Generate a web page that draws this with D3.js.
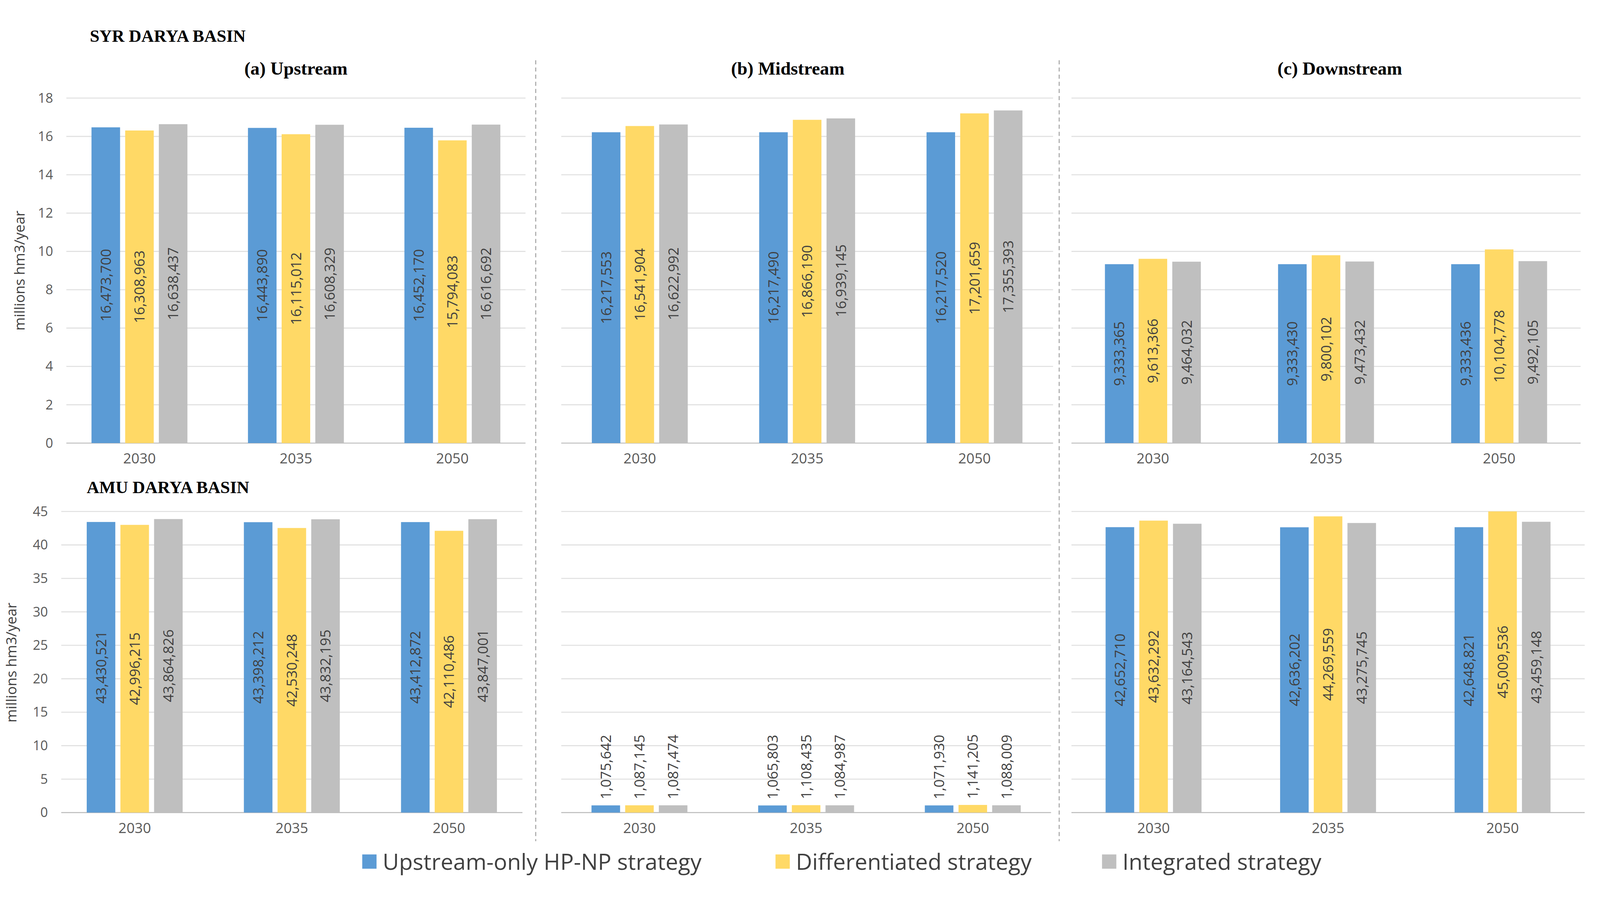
<!DOCTYPE html>
<html><head><meta charset="utf-8">
<script src="https://cdn.jsdelivr.net/npm/d3@7"></script>
<style>html,body{margin:0;padding:0;background:#fff;overflow:hidden}svg{display:block;width:100vw;height:100vh}</style>
</head><body>
<svg id="chart"></svg>
<script>
var years = ["2030", "2035", "2050"];
var series = ["Upstream-only HP-NP strategy", "Differentiated strategy", "Integrated strategy"];
var colors = ["#5B9BD5", "#FFD966", "#BFBFBF"];
var panelTitles = ["(a) Upstream", "(b) Midstream", "(c) Downstream"];

// values in hm3/year, [year][series]
var syrUp   = [[16473700, 16308963, 16638437], [16443890, 16115012, 16608329], [16452170, 15794083, 16616692]];
var syrMid  = [[16217553, 16541904, 16622992], [16217490, 16866190, 16939145], [16217520, 17201659, 17355393]];
var syrDown = [[9333365, 9613366, 9464032], [9333430, 9800102, 9473432], [9333436, 10104778, 9492105]];
var amuUp   = [[43430521, 42996215, 43864826], [43398212, 42530248, 43832195], [43412872, 42110486, 43847001]];
var amuMid  = [[1075642, 1087145, 1087474], [1065803, 1108435, 1084987], [1071930, 1141205, 1088009]];
var amuDown = [[42652710, 43632292, 43164543], [42636202, 44269559, 43275745], [42648821, 45009536, 43459148]];

var syrTicks = [0, 2, 4, 6, 8, 10, 12, 14, 16, 18];
var amuTicks = [0, 5, 10, 15, 20, 25, 30, 35, 40, 45];

var W = 1568, H = 846.5;
var svg = d3.select("#chart").attr("viewBox", "0 0 " + W + " " + H)
    .attr("preserveAspectRatio", "xMidYMid meet");

var fmt = d3.format(",");
var panelX = [[60, 520], [545, 1037], [1045, 1554]];
var panelXBottom = [[55, 517], [545, 1035], [1045, 1558]];

function drawPanel(data, xr, yr, ticks, showAxis)
{
    var x = d3.scaleBand().domain(years).range(xr);
    var y = d3.scaleLinear().domain([0, ticks[ticks.length - 1]]).range(yr);
    var g = svg.append("g");

    g.selectAll("line.grid").data(ticks).enter().append("line")
        .attr("x1", xr[0] + 5).attr("x2", xr[1] - 5)
        .attr("y1", function (d) { return y(d); }).attr("y2", function (d) { return y(d); })
        .style("stroke", function (d) { return d === 0 ? "#bfbfbf" : "#e0e0e0"; })
        .style("stroke-width", 1);

    if (showAxis)
    {
        g.selectAll("text.tick").data(ticks).enter().append("text")
            .attr("x", xr[0] - 8).attr("y", function (d) { return y(d) + 4.5; })
            .attr("text-anchor", "end").style("font", "13px 'Open Sans', sans-serif")
            .style("fill", "#595959").text(function (d) { return d; });
    }

    g.selectAll("text.year").data(years).enter().append("text")
        .attr("x", function (d) { return x(d) + x.bandwidth() / 2; })
        .attr("y", yr[0] + 20).attr("text-anchor", "middle")
        .style("font", "14px 'Open Sans', sans-serif").style("fill", "#595959")
        .text(function (d) { return d; });

    var bw = 28, off = [-33, 0, 33];
    data.forEach(function (row, i)
    {
        var cx = x(years[i]) + x.bandwidth() / 2;
        row.forEach(function (v, j)
        {
            var val = v / 1e6;
            var bx = cx + off[j] - bw / 2;
            g.append("rect").attr("x", bx).attr("width", bw)
                .attr("y", y(val)).attr("height", y(0) - y(val))
                .style("fill", colors[j]);
            var inside = (y(0) - y(val)) > 90;
            var ty = inside ? (y(0) + y(val)) / 2 : y(val) - 6;
            g.append("text")
                .attr("transform", "translate(" + (cx + off[j] + 5) + "," + ty + ") rotate(-90)")
                .attr("text-anchor", inside ? "middle" : "start")
                .style("font", "14px 'Open Sans', sans-serif").style("fill", "#404040")
                .text(fmt(v));
        });
    });
}

var topY = [415, 77], botY = [777, 482];
[syrUp, syrMid, syrDown].forEach(function (d, i) { drawPanel(d, panelX[i], topY, syrTicks, i === 0); });
[amuUp, amuMid, amuDown].forEach(function (d, i) { drawPanel(d, panelXBottom[i], botY, amuTicks, i === 0); });

// dashed separators
[525, 1038].forEach(function (xx)
{
    svg.append("line").attr("x1", xx).attr("x2", xx).attr("y1", 40).attr("y2", 805)
        .style("stroke", "#a6a6a6").style("stroke-dasharray", "4,3");
});

// titles
svg.append("text").attr("x", 88).attr("y", 22).text("SYR DARYA BASIN")
    .style("font", "bold 17px 'Liberation Serif', serif");
svg.append("text").attr("x", 85).attr("y", 464).text("AMU DARYA BASIN")
    .style("font", "bold 17px 'Liberation Serif', serif");
var tc = [290, 772, 1313];
panelTitles.forEach(function (t, i)
{
    svg.append("text").attr("x", tc[i]).attr("y", 54).attr("text-anchor", "middle")
        .style("font", "bold 18px 'Liberation Serif', serif").text(t);
});

// y-axis labels
[[24, 246], [16, 630]].forEach(function (p)
{
    svg.append("text").attr("transform", "translate(" + p[0] + "," + p[1] + ") rotate(-90)")
        .attr("text-anchor", "middle").style("font", "14px 'Open Sans', sans-serif")
        .style("fill", "#404040").text("millions hm3/year");
});

// legend
var lx = [355, 760, 1080];
series.forEach(function (s, i)
{
    svg.append("rect").attr("x", lx[i]).attr("y", 818).attr("width", 14).attr("height", 14)
        .style("fill", colors[i]);
    svg.append("text").attr("x", lx[i] + 20).attr("y", 833)
        .style("font", "22px 'Open Sans', sans-serif").style("fill", "#404040").text(s);
});
</script>
</body></html>
